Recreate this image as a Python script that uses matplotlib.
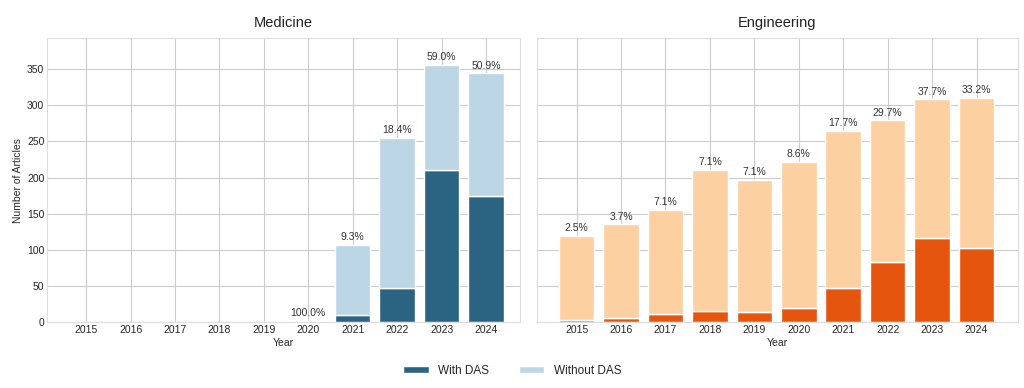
import numpy as np
import matplotlib.pyplot as plt
import seaborn as sns

sns.set_style("whitegrid")
plt.rcParams['font.family'] = ['Arial', 'Liberation Sans', 'DejaVu Sans']

years = [2015, 2016, 2017, 2018, 2019, 2020, 2021, 2022, 2023, 2024]

# Medicine
med_with = [0, 0, 0, 0, 0, 2, 10, 47, 210, 175]
med_without = [0, 0, 0, 0, 0, 0, 97, 208, 146, 169]
med_pct = [None, None, None, None, None, "100.0%", "9.3%", "18.4%", "59.0%", "50.9%"]

# Engineering
eng_with = [3, 5, 11, 15, 14, 19, 47, 83, 116, 103]
eng_without = [116, 130, 144, 195, 183, 202, 218, 196, 192, 207]
eng_pct = ["2.5%", "3.7%", "7.1%", "7.1%", "7.1%", "8.6%", "17.7%", "29.7%", "37.7%", "33.2%"]

fig = plt.figure(figsize=(10.24, 3.88), dpi=100)
ax1 = fig.add_axes([0.046, 0.170, 0.462, 0.732])
ax2 = fig.add_axes([0.524, 0.170, 0.470, 0.732], sharey=ax1)

x = np.arange(len(years))

def draw(ax, w, wo, pct, c_dark, c_light, title):
    w = np.array(w)
    wo = np.array(wo)
    b1 = ax.bar(x, w, 0.8, color=c_dark, edgecolor='white', linewidth=1, label='With DAS')
    b2 = ax.bar(x, wo, 0.8, bottom=w, color=c_light, edgecolor='white', linewidth=1, label='Without DAS')
    tot = w + wo
    for i, p in enumerate(pct):
        if p is not None:
            ax.text(x[i], tot[i] + 4, p, ha='center', va='bottom', fontsize=7.5, color='#333333')
    ax.set_xticks(x)
    ax.set_xticklabels([str(y) for y in years])
    ax.set_xlabel('Year', fontsize=7.5, labelpad=2)
    ax.set_title(title, fontsize=10.5, pad=8, color='#222222')
    ax.tick_params(axis='both', labelsize=7.5, pad=2, length=0)
    for s in ax.spines.values():
        s.set_color('#dddddd')
    return b1, b2

b1, b2 = draw(ax1, med_with, med_without, med_pct, '#2a6482', '#bcd6e6', 'Medicine')
draw(ax2, eng_with, eng_without, eng_pct, '#e6550d', '#fdd0a2', 'Engineering')

ax1.set_xlim(-0.88, 9.77)
ax2.set_xlim(-0.9, 9.93)
ax1.set_ylim(0, 393)
ax1.set_yticks([0, 50, 100, 150, 200, 250, 300, 350])
ax1.set_ylabel('Number of Articles', fontsize=7.5, labelpad=3)
plt.setp(ax2.get_yticklabels(), visible=False)

fig.legend([b1, b2], ['With DAS', 'Without DAS'], loc='center', bbox_to_anchor=(0.5, 0.045),
           ncol=2, frameon=False, fontsize=8.5, handlelength=2.2, handleheight=0.6, columnspacing=2.5)

fig.savefig('out.png', dpi=100)
